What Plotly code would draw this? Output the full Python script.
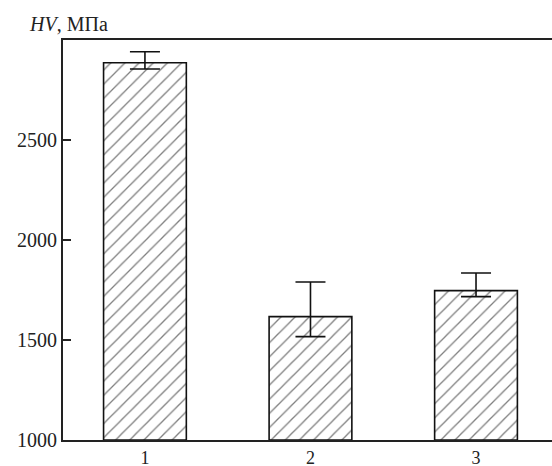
import plotly.graph_objects as go

categories = [1, 2, 3]
tick_labels = ["1", "2", "3"]
hv_values = [2886, 1617, 1747]
err_plus = [55, 173, 88]
err_minus = [31, 100, 30]
y_ticks = [1000, 1500, 2000, 2500]

FONT = "Liberation Serif"

fig = go.Figure()
fig.add_trace(go.Bar(
    x=categories,
    y=[v - 1000 for v in hv_values],
    base=1000,
    width=0.5,
    marker=dict(
        color="white",
        line=dict(color="#111", width=1.6),
        pattern=dict(shape="/", size=10, solidity=0.13, fgcolor="#000", bgcolor="white"),
    ),
    error_y=dict(type="data", symmetric=False, array=err_plus, arrayminus=err_minus,
                 color="#111", thickness=1.6, width=15),
    showlegend=False,
))

fig.update_layout(
    width=552, height=466,
    margin=dict(l=63, r=0, t=40, b=26),
    paper_bgcolor="white", plot_bgcolor="white",
    font=dict(family=FONT, size=20, color="#222"),
    xaxis=dict(
        range=[0.505, 3.459],
        tickvals=categories, ticktext=tick_labels,
        showline=True, linecolor="#222", linewidth=2, mirror=True,
        ticks="", showgrid=False, zeroline=False, automargin=False,
        tickfont=dict(family=FONT, size=18, color="#222"),
        ticklabelstandoff=0,
    ),
    yaxis=dict(
        range=[1000, 3000],
        tickvals=y_ticks,
        showline=True, linecolor="#222", linewidth=2,
        ticks="inside", ticklen=8, tickwidth=1.5, tickcolor="#222",
        showgrid=False, zeroline=False, automargin=False,
        tickfont=dict(family=FONT, size=20, color="#222"),
    ),
    annotations=[dict(
        text="<i>HV</i>, МПа", xref="paper", yref="paper",
        x=-0.0736, y=1.04, xanchor="left", yanchor="middle",
        showarrow=False, font=dict(family=FONT, size=20, color="#222"),
    )],
)

fig.write_html("out.html", config={"displayModeBar": False},
               post_script="document.body.style.margin='0';document.body.style.overflow='hidden';")
